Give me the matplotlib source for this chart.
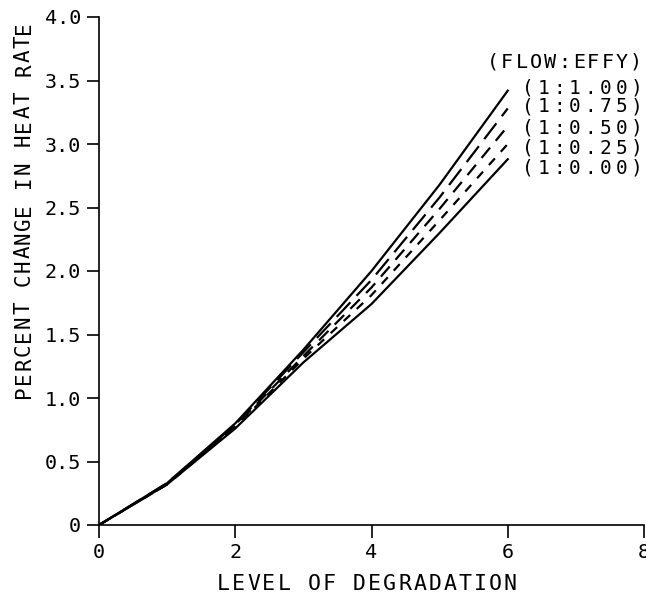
import matplotlib
matplotlib.use('Agg')
import matplotlib.pyplot as plt

# level of degradation vs percent change in heat rate
level = [0, 1, 2, 3, 4, 5, 6]
effy_100 = [0, 0.33, 0.80, 1.38, 2.00, 2.68, 3.42]
effy_075 = [0, 0.33, 0.79, 1.36, 1.93, 2.58, 3.28]
effy_050 = [0, 0.32, 0.78, 1.33, 1.87, 2.49, 3.14]
effy_025 = [0, 0.32, 0.77, 1.31, 1.81, 2.40, 3.00]
effy_000 = [0, 0.32, 0.76, 1.28, 1.74, 2.30, 2.88]
labels = ['(1:1.00)', '(1:0.75)', '(1:0.50)', '(1:0.25)', '(1:0.00)']
xticks = [0, 2, 4, 6, 8]
yticks = [0, 0.5, 1.0, 1.5, 2.0, 2.5, 3.0, 3.5, 4.0]
ytick_labels = ['0', '0.5', '1.0', '1.5', '2.0', '2.5', '3.0', '3.5', '4.0']

plt.rcParams['font.family'] = 'DejaVu Sans Mono'

W, H = 646, 597
fig = plt.figure(figsize=(W / 100, H / 100), dpi=100)
ax = fig.add_axes([99 / W, 1 - 525 / H, 545 / W, 508 / H])


def spaced(s, xc, yc, step, size, vertical=False):
    # plotter style lettering: fixed spacing per character (pixels)
    n = len(s)
    for i, ch in enumerate(s):
        off = (i - (n - 1) / 2) * step
        if vertical:
            fig.text(xc / W, 1 - (yc - off) / H, ch, fontsize=size,
                     ha='center', va='center', rotation=90)
        else:
            fig.text((xc + off) / W, 1 - yc / H, ch, fontsize=size,
                     ha='center', va='center')


series = [effy_100, effy_075, effy_050, effy_025, effy_000]
styles = ['-', (0, (9, 4)), (0, (6, 4)), (0, (4, 4)), '-']
for vals, ls in zip(series, styles):
    ax.plot(level, vals, color='black', linestyle=ls, linewidth=1.6)

ax.set_xlim(0, 8)
ax.set_ylim(0, 4)
ax.set_xticks(xticks)
ax.set_xticklabels([str(t) for t in xticks])
ax.set_yticks(yticks)
ax.set_yticklabels(ytick_labels)
ax.spines['top'].set_visible(False)
ax.spines['right'].set_visible(False)
for sp in ['left', 'bottom']:
    ax.spines[sp].set_linewidth(1.2)
ax.tick_params(axis='both', direction='out', length=9, width=1.2, labelsize=14.5, pad=4)

# axis titles
spaced('LEVEL OF DEGRADATION', 367, 584, 15.1, 15.5)
spaced('PERCENT CHANGE IN HEAT RATE', 24, 210, 14.0, 15, vertical=True)

# curve labels at right
spaced('(FLOW:EFFY)', 636 - 5 * 14.3, 62, 14.3, 14.5)
ypos = [88, 107, 128, 148, 168]
for lab, yp in zip(labels, ypos):
    spaced(lab, 637 - 3.5 * 15.6, yp, 15.6, 14)

fig.savefig('out.png', dpi=100)
